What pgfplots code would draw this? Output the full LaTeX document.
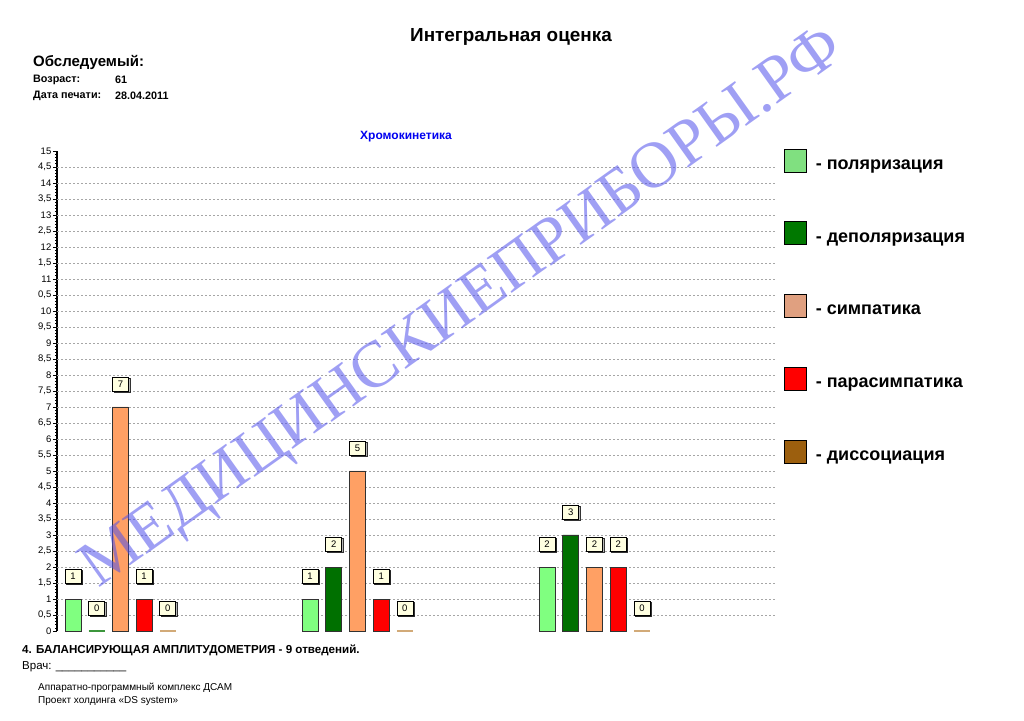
\documentclass[border=0pt]{standalone}
\usepackage{fontspec}
\setmainfont{Liberation Sans}
\newfontfamily\wmfont{Liberation Serif}
\usepackage{pgfplots}
\pgfplotsset{compat=1.18}
\usetikzlibrary{shadows}
\definecolor{cPol}{RGB}{128,255,128}
\definecolor{cDep}{RGB}{0,112,0}
\definecolor{cSym}{RGB}{255,160,100}
\definecolor{cPar}{RGB}{255,0,0}
\definecolor{cDisZ}{RGB}{210,170,120}
\definecolor{cDepZ}{RGB}{60,150,60}
\definecolor{cLPol}{RGB}{128,224,128}
\definecolor{cLDep}{RGB}{0,120,0}
\definecolor{cLSym}{RGB}{224,160,128}
\definecolor{cLPar}{RGB}{255,0,0}
\definecolor{cLDis}{RGB}{156,95,14}
\definecolor{cBord}{RGB}{50,50,50}
\definecolor{cBox}{RGB}{255,255,225}
\definecolor{cBlue}{RGB}{0,0,240}
\definecolor{cWm}{RGB}{80,80,235}
\begin{document}
\begin{tikzpicture}[x=1pt,y=1pt,txt/.style={inner sep=0pt,anchor=west}]
\useasboundingbox (0,0) rectangle (1024,720);
\node[inner sep=0pt,font=\bfseries\fontsize{18.9}{20}\selectfont] at (511,683) {Интегральная оценка};
\node[txt,font=\bfseries\fontsize{15}{16}\selectfont] at (33,658) {Обследуемый:};
\node[txt,font=\bfseries\fontsize{10.8}{12}\selectfont] at (33,640) {Возраст:};
\node[txt,font=\bfseries\fontsize{10.8}{12}\selectfont] at (115,640) {61};
\node[txt,font=\bfseries\fontsize{10.8}{12}\selectfont] at (33,624) {Дата печати:};
\node[txt,font=\bfseries\fontsize{10.8}{12}\selectfont] at (115,624) {28.04.2011};
\node[inner sep=0pt,font=\bfseries\fontsize{12}{13}\selectfont,text=cBlue] at (406,583) {Хромокинетика};
\node[txt,font=\bfseries\fontsize{11.6}{12}\selectfont] at (22,70) {4. БАЛАНСИРУЮЩАЯ АМПЛИТУДОМЕТРИЯ - 9 отведений.};
\node[txt,font=\fontsize{11.5}{12}\selectfont] at (22,53) {Врач: \_\_\_\_\_\_\_\_\_\_\_};
\node[txt,font=\fontsize{10}{11}\selectfont] at (38,32) {Аппаратно-программный комплекс ДСАМ};
\node[txt,font=\fontsize{10}{11}\selectfont] at (38,19) {Проект холдинга «DS system»};
\begin{axis}[
  at={(57pt,89pt)}, anchor=south west,
  scale only axis, width=720pt, height=480pt,
  xmin=-0.675, xmax=29.7, ymin=0, ymax=15,
  axis x line=none, axis y line*=left,
  y axis line style={line width=2.2pt, black},
  xtick=\empty,
  ytick={0,0.5,...,15},
  yticklabels={0,{0,5},1,{1,5},2,{2,5},3,{3,5},4,{4,5},5,{5,5},6,{6,5},7,{7,5},8,{8,5},9,{9,5},10,{0,5},11,{1,5},12,{2,5},13,{3,5},14,{4,5},15},
  minor y tick num=4,
  tick align=outside,
  major tick length=4pt, minor tick length=2pt,
  tick style={black, line width=0.6pt},
  yticklabel style={font=\fontsize{9.5}{9.5}\selectfont, inner sep=1.5pt},
  extra y ticks={0.5,1,...,14.5},
  extra y tick labels={},
  extra y tick style={grid=major, major tick length=0pt, yticklabel style={text opacity=0}},
  major grid style={gray!70, dash pattern=on 2pt off 2pt, line width=0.8pt},
  ybar, bar width=16pt,
  nodes near coords,
  every node near coord/.append style={anchor=center, yshift=23pt, draw=black, solid, line width=0.7pt, fill=cBox, text=black, minimum width=16pt, minimum height=14pt, inner sep=0pt, font=\fontsize{9.5}{9.5}\selectfont, drop shadow={shadow xshift=1.5pt, shadow yshift=-1.5pt, fill=gray!70, opacity=0.8}},
  /pgf/number format/assume math mode=true,
  clip=false,
  legend image code/.code={\draw[#1, draw=black, line width=0.8pt, solid] (0pt,-7pt) rectangle (22pt,16pt); \path (31pt,0pt);},
  legend style={at={(1.0097,1.0052)}, anchor=north west, draw=none, fill=none, inner sep=0pt, row sep=49pt, font=\bfseries\fontsize{18}{18}\selectfont, nodes={inner sep=0pt}},
  legend cell align=left,
]
\addplot[fill=cPol, draw=cBord, line width=0.8pt, bar shift=0pt, forget plot] coordinates {(0,1) (10,1) (20,2)};
\addplot[fill=cDep, draw=cBord, line width=0.8pt, bar shift=0pt, forget plot] coordinates {(11,2) (21,3)};
\addplot[fill=cDepZ, draw=cDepZ, line width=1.5pt, dash pattern=on 7pt off 2pt, bar shift=0pt, forget plot] coordinates {(1,0)};
\addplot[fill=cSym, draw=cBord, line width=0.8pt, bar shift=0pt, forget plot] coordinates {(2,7) (12,5) (22,2)};
\addplot[fill=cPar, draw=cBord, line width=0.8pt, bar shift=0pt, forget plot] coordinates {(3,1) (13,1) (23,2)};
\addplot[fill=cDisZ, draw=cDisZ, line width=1.5pt, dash pattern=on 7pt off 2pt, bar shift=0pt, forget plot] coordinates {(4,0) (14,0) (24,0)};
\addlegendimage{fill=cLPol}
\addlegendentry{- поляризация}
\addlegendimage{fill=cLDep}
\addlegendentry{- деполяризация}
\addlegendimage{fill=cLSym}
\addlegendentry{- симпатика}
\addlegendimage{fill=cLPar}
\addlegendentry{- парасимпатика}
\addlegendimage{fill=cLDis}
\addlegendentry{- диссоциация}
\end{axis}
\node[inner sep=0pt, rotate=35.5, font=\wmfont\fontsize{65.5}{65.5}\selectfont, text=cWm, text opacity=0.55] at (464,410) {МЕДИЦИНСКИЕПРИБОРЫ.РФ};
\end{tikzpicture}
\end{document}
